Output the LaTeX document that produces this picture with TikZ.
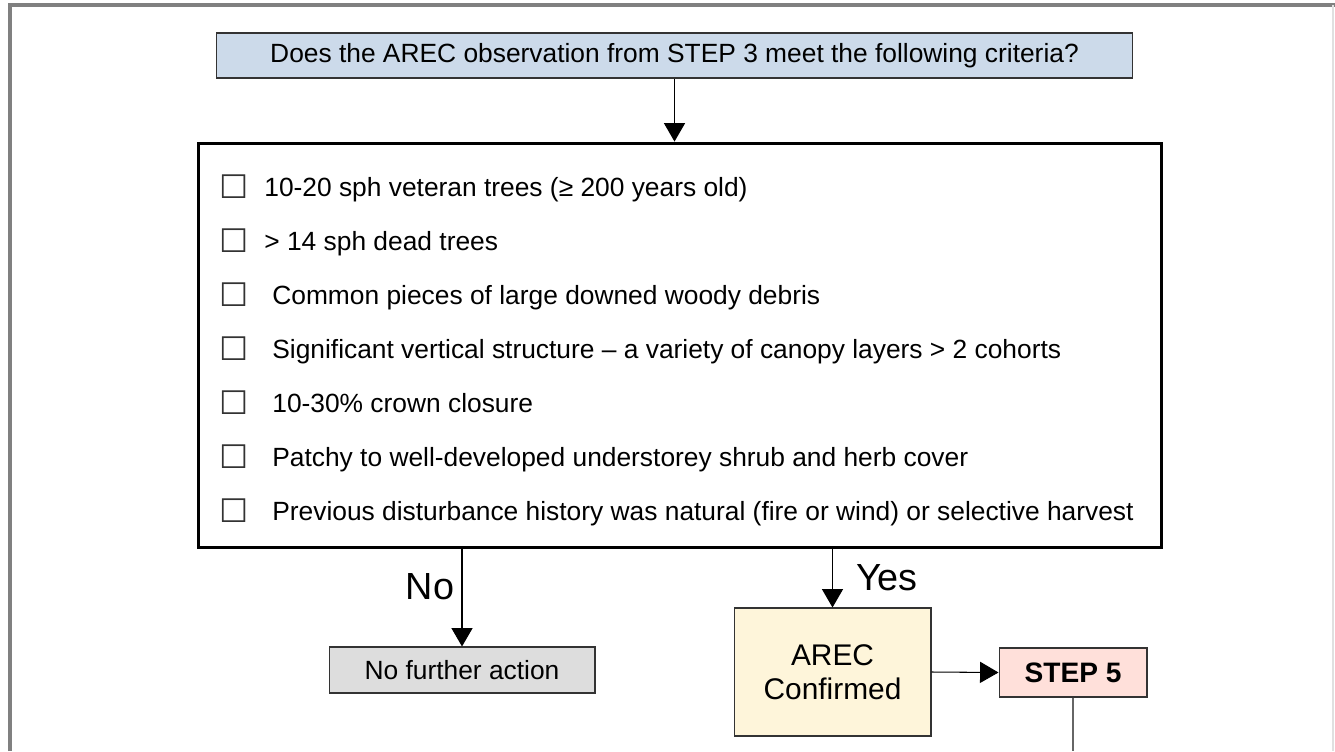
\documentclass[tikz,border=0pt]{standalone}
\usepackage{fontspec}
\usepackage{xcolor}
\setmainfont{Liberation Sans}
\newfontfamily\symfont{DejaVu Sans}
\usetikzlibrary{arrows.meta}

\definecolor{qblue}{HTML}{CCDAEA}
\definecolor{nogray}{HTML}{DDDDDD}
\definecolor{arecyellow}{HTML}{FEF5DA}
\definecolor{steppink}{HTML}{FFE0DA}

\begin{document}
\begin{tikzpicture}[x=0.02cm, y=-0.02cm,
  box/.style={draw=black!80, line width=0.6pt, inner sep=0pt, font=\fontsize{15}{18}\selectfont},
  flow/.style={black, line width=0.6pt, -{Triangle[width=12pt,length=10.5pt]}},
  chk/.style={inner sep=0pt, font=\symfont\fontsize{18.5}{20}\selectfont, text=black!80},
  item/.style={anchor=base west, inner sep=0pt, font=\fontsize{15}{18}\selectfont},
  answer/.style={inner sep=0pt, font=\fontsize{21.5}{24}\selectfont}]
  % Marco
  \useasboundingbox (0,0) rectangle (1335,751);
  \draw[black!50, line width=2pt] (10,751) -- (10,5) -- (1335,5);
  \draw[black!12, line width=0.6pt] (1333,5) -- (1333,751);

  % Pregunta
  \node[box, fill=qblue, minimum width=18.34cm, minimum height=0.9cm] (q) at (674.5,55.5)
    {Does the AREC observation from STEP 3 meet the following criteria?};

  % Criterios
  \node[draw, line width=1.7pt, minimum width=19.28cm, minimum height=8.1cm] (crit) at (680,345.5) {};
  \node[chk] (c1) at (234.5,187) {☐};
  \node[chk] (c2) at (234.5,241) {☐};
  \node[chk] (c3) at (234.5,295) {☐};
  \node[chk] (c4) at (234.5,349) {☐};
  \node[chk] (c5) at (234.5,403) {☐};
  \node[chk] (c6) at (234.5,457) {☐};
  \node[chk] (c7) at (234.5,511) {☐};
  \node[item] (t1) at (264,196.5) {10-20 sph veteran trees (≥ 200 years old)};
  \node[item] (t2) at (264,250.5) {> 14 sph dead trees};
  \node[item] (t3) at (272,304.5) {Common pieces of large downed woody debris};
  \node[item] (t4) at (272,358.5) {Significant vertical structure – a variety of canopy layers > 2 cohorts};
  \node[item] (t5) at (272,412.5) {10-30\% crown closure};
  \node[item] (t6) at (272,466.5) {Patchy to well-developed understorey shrub and herb cover};
  \node[item] (t7) at (272,520.5) {Previous disturbance history was natural (fire or wind) or selective harvest};

  % Resultados
  \node[box, fill=nogray, minimum width=5.32cm, minimum height=0.92cm] (nofurther) at (462,670) {No further action};
  \node[box, fill=arecyellow, minimum width=3.94cm, minimum height=2.56cm, align=center,
    font=\fontsize{17}{19.5}\selectfont] (arec) at (832.5,672) {AREC\\Confirmed};
  \node[box, fill=steppink, minimum width=2.96cm, minimum height=0.98cm,
    font=\fontsize{16}{18}\selectfont\bfseries] (step5) at (1073,672.5) {STEP 5};
  \coordinate (bottom) at (1073,751);

  % Flechas
  \draw[flow] (q.south) -- (q.south |- crit.north);
  \draw[flow] (nofurther.north |- crit.south) -- (nofurther.north);
  \draw[flow] (arec.north |- crit.south) -- (arec.north);
  \draw[flow] (arec.east) -- (step5.west);
  \draw[black!60, line width=0.6pt] (step5.south) -- (step5.south |- bottom);

  % Etiquetas
  \node[answer] (nolbl) at (430,587) {No};
  \node[answer] (yeslbl) at (887,578) {Yes};
\end{tikzpicture}
\end{document}
